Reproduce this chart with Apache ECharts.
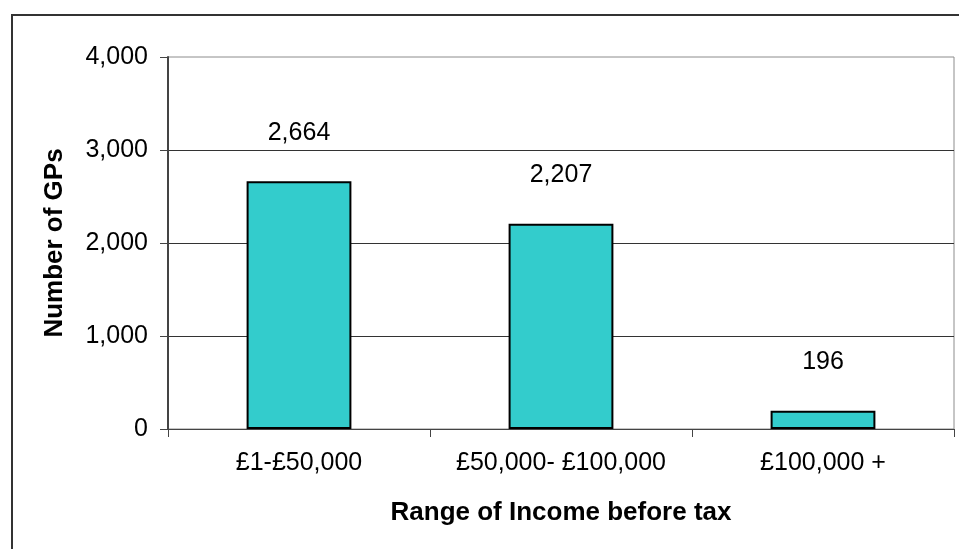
<!DOCTYPE html>
<html>
<head>
<meta charset="utf-8">
<script src="https://cdn.jsdelivr.net/npm/echarts@6/dist/echarts.min.js"></script>
<style>
  html, body { margin: 0; padding: 0; background: #fff; }
  #chart { width: 959px; height: 549px; }
</style>
</head>
<body>
<div id="chart"></div>
<script>
var categories = ['£1-£50,000', '£50,000- £100,000', '£100,000 +'];
var gpCounts = [2664, 2207, 196];
var yTicks = [0, 1000, 2000, 3000, 4000];

var fontName = '"Liberation Sans", Arial, sans-serif';

function withCommas(v) {
  return String(v).replace(/\B(?=(\d{3})+(?!\d))/g, ',');
}

var chart = echarts.init(document.getElementById('chart'));
chart.setOption({
  animation: false,
  backgroundColor: '#fff',
  textStyle: { fontFamily: fontName },
  // outer chart border (runs off the right and bottom edge)
  graphic: [{
    type: 'rect',
    shape: { x: 12, y: 15, width: 960, height: 560 },
    style: { fill: 'none', stroke: '#333', lineWidth: 2 },
    silent: true,
    z: -10
  }],
  grid: {
    left: 168, right: 5, top: 57, bottom: 120,
    show: true,
    borderColor: '#8c8c8c',
    borderWidth: 1,
    containLabel: false
  },
  xAxis: {
    type: 'category',
    data: categories,
    name: 'Range of Income before tax',
    nameLocation: 'middle',
    nameGap: 71,
    nameTextStyle: { fontFamily: fontName, fontSize: 26, fontWeight: 'bold', color: '#000' },
    axisLine: { lineStyle: { color: '#444', width: 1 } },
    axisTick: { show: true, length: 8, lineStyle: { color: '#444' } },
    axisLabel: {
      interval: 0, hideOverlap: false,
      fontFamily: fontName, fontSize: 25, color: '#000', margin: 22
    }
  },
  yAxis: {
    type: 'value',
    min: yTicks[0],
    max: yTicks[yTicks.length - 1],
    interval: yTicks[1] - yTicks[0],
    name: 'Number of GPs',
    nameLocation: 'middle',
    nameGap: 100,
    nameTextStyle: { fontFamily: fontName, fontSize: 26, fontWeight: 'bold', color: '#000' },
    axisLine: { show: true, lineStyle: { color: '#444', width: 2 } },
    axisTick: { show: true, length: 8, lineStyle: { color: '#444' } },
    axisLabel: {
      fontFamily: fontName, fontSize: 25, color: '#000', margin: 20,
      formatter: function (v) { return withCommas(v); }
    },
    splitLine: {
      show: true,
      showMinLine: false,
      showMaxLine: false,
      lineStyle: { color: '#333', width: 1 }
    }
  },
  series: [{
    type: 'bar',
    data: gpCounts,
    barWidth: '40%',
    itemStyle: { color: '#33CCCC', borderColor: '#000', borderWidth: 2 },
    label: {
      show: true,
      position: 'top',
      distance: 36,
      fontFamily: fontName,
      fontSize: 25,
      color: '#000',
      formatter: function (p) { return withCommas(p.value); }
    }
  }]
});
</script>
</body>
</html>
